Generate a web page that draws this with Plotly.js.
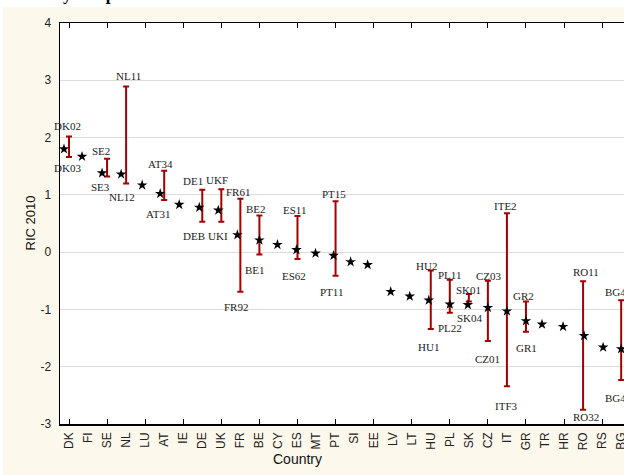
<!DOCTYPE html>
<html>
<head>
<meta charset="utf-8">
<script src="https://cdn.plot.ly/plotly-3.0.1.min.js"></script>
<style>
html, body { margin: 0; padding: 0; overflow: hidden; background: #ffffff; width: 624px; height: 475px; }
#chart { width: 660px; height: 475px; }
</style>
</head>
<body>
<div id="chart"></div>
<script>
// ---------------- DATA ----------------
var countries = ['DK','FI','SE','NL','LU','AT','IE','DE','UK','FR','BE','CY','ES','MT','PT','SI','EE','LV','LT','HU','PL','SK','CZ','IT','GR','TR','HR','RO','RS','BG'];
var ric2010 = [1.80,1.67,1.38,1.36,1.17,1.02,0.83,0.78,0.73,0.30,0.21,0.13,0.04,-0.02,-0.06,-0.17,-0.22,-0.69,-0.77,-0.84,-0.91,-0.92,-0.97,-1.03,-1.20,-1.26,-1.30,-1.46,-1.66,-1.69];
var regionMax = [2.02,null,1.63,2.89,null,1.42,null,1.09,1.10,0.93,0.64,null,0.63,null,0.89,null,null,null,null,-0.32,-0.48,-0.73,-0.50,0.68,-0.86,null,null,-0.51,null,-0.84];
var regionMin = [1.66,null,1.32,1.20,null,0.91,null,0.53,0.53,-0.69,-0.04,null,-0.12,null,-0.41,null,null,null,null,-1.34,-1.06,-0.86,-1.55,-2.34,-1.39,null,null,-2.75,null,-2.23];
var topRegion = ['DK02','','SE2','NL11','','AT34','','DE1','UKF','FR61','BE2','','ES11','','PT15','','','','','HU2','PL11','SK01','CZ03','ITE2','GR2','','','RO11','','BG41'];
var bottomRegion = ['DK03','','SE3','NL12','','AT31','','DEB','UKI','FR92','BE1','','ES62','','PT11','','','','','HU1','PL22','SK04','CZ01','ITF3','GR1','','','RO32','','BG42'];
var yTickVals = [-3,-2,-1,0,1,2,3,4];
var yTickText = ['-3','-2','-1','0','1','2','3','4'];
var chartTitle = 'Country comparison';
var xTitle = 'Country';
var yTitle = 'RIC 2010';

// ---------------- STYLE / PLACEMENT ----------------
var pxPerCat = 19.04;
var starDxPx = [-5,-6,-5,-5,-3,-4,-4,-3,-3,-3,0,-1,-1,-1,-2,-4,-6,-2,-2,-2,0,-1,0,0,0,-3,-1,1,1,0];
var topDyPx = [10,0,8,10.7,0,7,0,8.3,9.3,7,6.7,0,6,0,6.7,0,0,0,0,4.7,4.4,4,5,7.6,5.4,0,0,9,0,8.6];
var botDyPx = [-10.7,0,-10.3,-13.4,0,-13.7,0,-14.6,-14.6,-15.3,-16,0,-16.7,0,-16.6,0,0,0,0,-18.3,-15.3,-17,-17.7,-19.7,-16.6,0,0,-7.3,0,-17.7];
var topDxPx = [-2,0,-6,2,0,-4,0,-9,-4,-2,-3,0,-3,0,-2,0,0,0,0,-4,0,0,1,-1,-2,0,0,3,0,-3];
var botDxPx = [-2,0,-7,-4,0,-6,0,-8,-3,-4,-4,0,-3,0,-4,0,0,0,0,-2,0,1,0,0,1,0,0,3,0,-3];

var idx = countries.map(function(_, i){ return i; });
var starX = idx.map(function(i){ return i + starDxPx[i] / pxPerCat; });
var errUp = idx.map(function(i){ return regionMax[i] === null ? null : regionMax[i] - regionMin[i]; });
var errDown = idx.map(function(i){ return regionMax[i] === null ? null : 0; });

var barTrace = {
  x: idx, y: regionMin, type: 'scatter', mode: 'markers',
  marker: { size: 1, color: 'rgba(0,0,0,0)' },
  error_y: { type: 'data', symmetric: false, array: errUp, arrayminus: errDown,
             color: '#a50000', thickness: 2, width: 3 },
  hoverinfo: 'skip', showlegend: false
};
var starTrace = {
  x: starX, y: ric2010, type: 'scatter', mode: 'markers',
  marker: { symbol: 'star', size: 8, color: '#000000', line: { width: 0 } },
  hoverinfo: 'skip', showlegend: false
};

var labelFont = { family: 'Liberation Serif, Times New Roman, serif', size: 11, color: '#222222' };
var annotations = [];
idx.forEach(function(i){
  if (topRegion[i]) {
    annotations.push({ x: i, y: regionMax[i], xref: 'x', yref: 'y', text: topRegion[i], showarrow: false,
      font: labelFont, xshift: topDxPx[i], yshift: topDyPx[i] });
  }
  if (bottomRegion[i]) {
    annotations.push({ x: i, y: regionMin[i], xref: 'x', yref: 'y', text: bottomRegion[i], showarrow: false,
      font: labelFont, xshift: botDxPx[i], yshift: botDyPx[i] });
  }
});

var plotL = 60, plotW = 570, plotB = 424, plotH = 401;
function px2x(px){ return (px - plotL) / plotW; }
function py2y(py){ return (plotB - py) / plotH; }

annotations.push({ xref: 'paper', yref: 'paper', x: px2x(297), y: py2y(469), text: xTitle, showarrow: false,
  font: { family: 'Liberation Sans, Arial, sans-serif', size: 14, color: '#111111' } });
annotations.push({ xref: 'paper', yref: 'paper', x: px2x(20), y: py2y(223), text: yTitle, showarrow: false, textangle: -90,
  font: { family: 'Liberation Sans, Arial, sans-serif', size: 13, color: '#111111' } });
annotations.push({ xref: 'paper', yref: 'paper', x: px2x(8), y: py2y(6), xanchor: 'left', yanchor: 'bottom', text: '<b>' + chartTitle + '</b>', showarrow: false,
  font: { family: 'Liberation Serif, Times New Roman, serif', size: 17, color: '#000000' } });

var evenIdx = idx.filter(function(i){ return i % 2 === 0; });

var layout = {
  width: 660, height: 475,
  margin: { l: plotL, r: 30, t: 23, b: 51, pad: 0 },
  paper_bgcolor: '#fdf8ec',
  plot_bgcolor: '#ffffff',
  showlegend: false,
  hovermode: false,
  xaxis: {
    type: 'linear',
    range: [-9 / pxPerCat, -9 / pxPerCat + plotW / pxPerCat],
    tickmode: 'array', tickvals: idx, ticktext: countries,
    tickangle: -90, ticks: '', showgrid: false, zeroline: false,
    showline: true, linecolor: '#000000', linewidth: 1.5, mirror: 'ticks',
    tickfont: { family: 'Liberation Sans, Arial, sans-serif', size: 12, color: '#222222' },
    ticklabelstandoff: 2,
    minor: { tickmode: 'array', tickvals: evenIdx, ticks: 'inside', ticklen: 5, tickwidth: 1, tickcolor: '#000000', showgrid: false }
  },
  yaxis: {
    range: [-3, 4], tickmode: 'array', tickvals: yTickVals, ticktext: yTickText,
    showgrid: true, gridcolor: '#dcdcdc', gridwidth: 1, zeroline: false,
    showline: true, linecolor: '#000000', linewidth: 1.5, mirror: true,
    ticks: '', ticklabelstandoff: 5,
    tickfont: { family: 'Liberation Sans, Arial, sans-serif', size: 12, color: '#222222' }
  },
  shapes: [
    { type: 'rect', xref: 'paper', yref: 'paper', x0: -0.3, x1: 1.3, y0: py2y(7), y1: 1.3,
      fillcolor: '#ffffff', line: { width: 0 }, layer: 'below' },
    { type: 'rect', xref: 'paper', yref: 'paper', x0: -0.3, x1: px2x(3), y0: -0.3, y1: 1.3,
      fillcolor: '#ffffff', line: { width: 0 }, layer: 'below' }
  ],
  annotations: annotations
};

Plotly.newPlot('chart', [barTrace, starTrace], layout, { displayModeBar: false, staticPlot: true });
</script>
</body>
</html>
